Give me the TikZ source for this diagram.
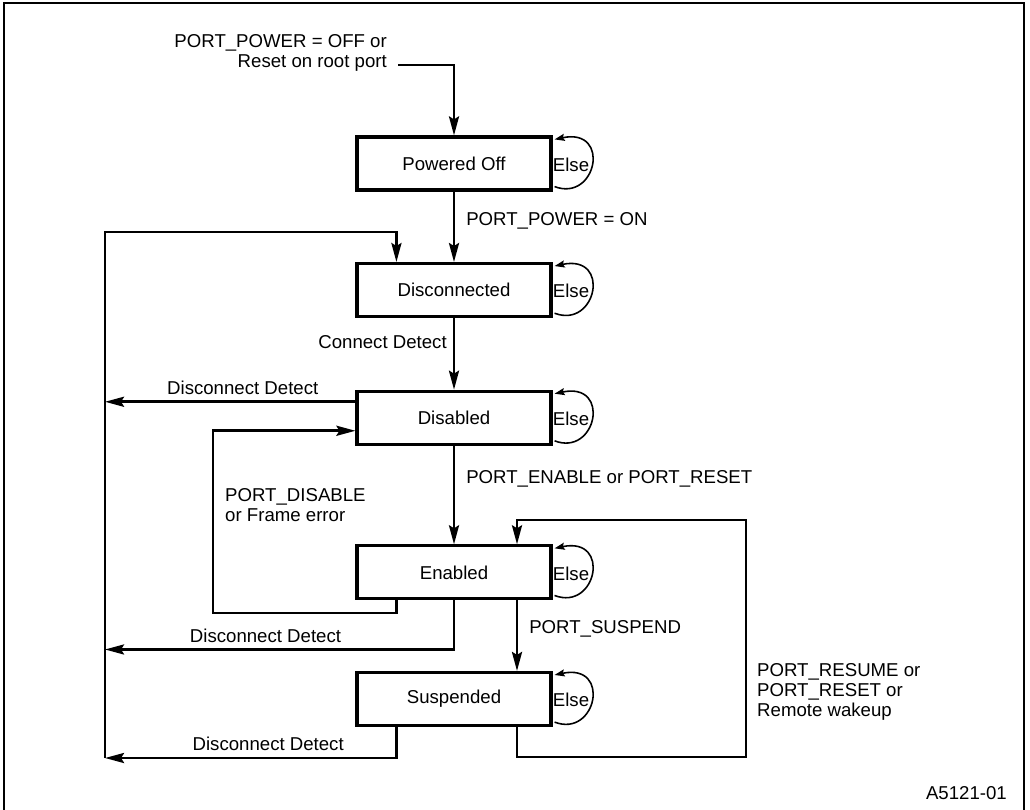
\documentclass[tikz,border=0pt]{standalone}
\usepackage{fontspec}
\setmainfont{Liberation Sans}
\usetikzlibrary{arrows.meta,positioning,calc}

\begin{document}
\begin{tikzpicture}[
    x=0.02cm, y=-0.02cm,
    font=\fontsize{10.6}{11.5}\selectfont,
    state/.style={rectangle, draw, line width=1.8pt,
                minimum width=3.88cm, minimum height=1.06cm},
    arrow/.style={-{Stealth[length=0.38cm, width=0.2cm, inset=0.06cm]}, line width=1.6pt},
    elseloop/.style={-{Stealth[length=0.2cm, width=0.14cm, inset=0.03cm]}, line width=0.9pt}
]
    \useasboundingbox (0,0) rectangle (1030,810);
    \draw[line width=1pt] (4,815) -- (4,3) -- (1024,3) -- (1024,815);

    \node[state] (poweredoff) at (454,163.5) {Powered Off};
    \node[state, below=1.41cm of poweredoff] (disconnected) {Disconnected};
    \node[state, below=1.43cm of disconnected] (disabled) {Disabled};
    \node[state, below=1.97cm of disabled] (enabled) {Enabled};
    \node[state, below=1.41cm of enabled] (suspended) {Suspended};

    % entry
    \node[align=right, anchor=east] (powerin) at (393,53) {PORT\_POWER = OFF or\\Reset on root port};
    \coordinate (powerstart) at (398,65);
    \draw[arrow] (powerstart) -| (poweredoff.north);

    % main chain
    \draw[arrow] (poweredoff) -- node[right, pos=0.41, xshift=0.1cm] {PORT\_POWER = ON} (disconnected);
    \draw[arrow] (disconnected) -- node[left, pos=0.34] {Connect Detect} (disabled);
    \draw[arrow] (disabled) -- node[right, pos=0.33, xshift=0.1cm] {PORT\_ENABLE or PORT\_RESET} (enabled);

    % suspend / resume
    \coordinate (resumetop) at (517,520);
    \coordinate (resumecorner) at (746,757);
    \draw[arrow] (enabled.south -| resumetop) -- node[right, pos=0.4, xshift=0.1cm] {PORT\_SUSPEND} (suspended.north -| resumetop);
    \draw[arrow] (suspended.south -| resumetop) |- (resumecorner) |- (resumetop) -- (enabled.north -| resumetop);
    \node[align=left, anchor=west] (resumelbl) at (751,692) {PORT\_RESUME or\\PORT\_RESET or\\Remote wakeup};

    % disconnect bus
    \coordinate (bustop) at (105,232);
    \coordinate (busbot) at (105,758);
    \draw[arrow] (busbot) -- (bustop) -| ([xshift=0.82cm]disconnected.north west);
    \coordinate (disout) at ([yshift=0.32cm]disabled.west);
    \draw[arrow] (disout) -- node[above, pos=0.45] {Disconnect Detect} (bustop |- disout);
    \coordinate (enout) at ($(enabled.south)+(0,49)$);
    \draw[arrow] (enabled.south) |- node[pos=0.77, above] {Disconnect Detect} (bustop |- enout);
    \draw[arrow] ([xshift=0.82cm]suspended.south west) |- node[pos=0.72, above] {Disconnect Detect} (busbot);

    % disable / frame error
    \coordinate (disin) at ([yshift=-0.26cm]disabled.west);
    \coordinate (errcorner) at (213,613);
    \draw[arrow] ([xshift=0.82cm]enabled.south west) |- (errcorner) |- (disin);
    \node[align=left, anchor=west] (errlbl) at (219,505) {PORT\_DISABLE\\or Frame error};

    % else loops
    \draw[elseloop] ($(poweredoff.south east)+(2,-5)$) .. controls +(42,16) and +(57,-12) .. node[left, inner sep=1pt] {Else} ($(poweredoff.north east)+(2,4)$);
    \draw[elseloop] ($(disconnected.south east)+(2,-5)$) .. controls +(42,16) and +(57,-12) .. node[left, inner sep=1pt] {Else} ($(disconnected.north east)+(2,4)$);
    \draw[elseloop] ($(disabled.south east)+(2,-5)$) .. controls +(42,16) and +(57,-12) .. node[left, inner sep=1pt] {Else} ($(disabled.north east)+(2,4)$);
    \draw[elseloop] ($(enabled.south east)+(2,-5)$) .. controls +(42,16) and +(57,-12) .. node[left, inner sep=1pt] {Else} ($(enabled.north east)+(2,4)$);
    \draw[elseloop] ($(suspended.south east)+(2,-5)$) .. controls +(42,16) and +(57,-12) .. node[left, inner sep=1pt] {Else} ($(suspended.north east)+(2,4)$);

    \node[anchor=east] (figid) at (1013,793) {A5121-01};
\end{tikzpicture}
\end{document}
